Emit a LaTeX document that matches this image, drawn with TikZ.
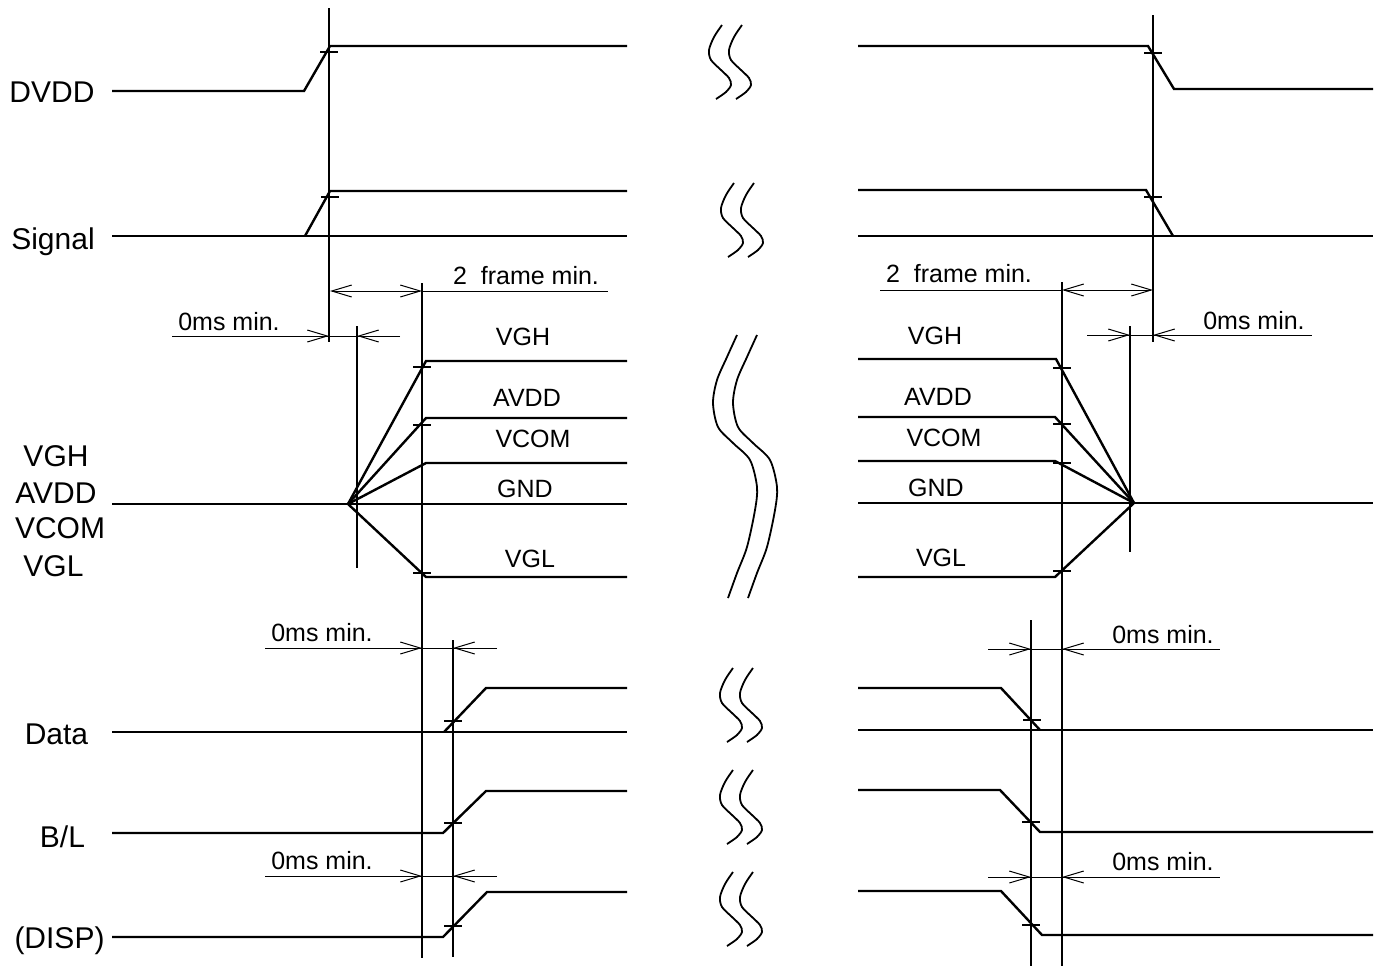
\documentclass[tikz,border=0pt]{standalone}
\usepackage{fontspec}
\setmainfont{Liberation Sans}
\usetikzlibrary{arrows.meta}
\tikzset{
  sig/.style={line width=1.2pt, line join=miter},
  guide/.style={line width=0.6pt},
  dim/.style={line width=0.5pt},
  tk/.style={line width=0.7pt},
  brk/.style={line width=0.9pt},
  big/.style={font=\fontsize{15}{15}\selectfont, inner sep=0pt, anchor=base},
  lbl/.style={font=\fontsize{12.5}{12.5}\selectfont, inner sep=0pt, anchor=base},
  ar/.style={-{Straight Barb[length=10pt,width=6pt]}},
  arr/.style={{Straight Barb[length=10pt,width=6pt]}-{Straight Barb[length=10pt,width=6pt]}},
}
\newcommand\tickmark[2]{\draw[tk] (#1-9,#2) -- (#1+9,#2);}
\newcommand\smallbrk[2]{%
  \foreach \dx in {0,20}{%
    \draw[brk,shift={(#1+\dx,#2)}] plot[smooth] coordinates {(13,0) (5,12) (0,25) (2,35) (12,45) (20,53) (22,60) (17,67) (7,74)};
  }}
\begin{document}
\begin{tikzpicture}[x=0.5pt,y=-0.5pt]
\useasboundingbox (0,0) rectangle (1381,966);

% ---------- left labels ----------
\node[big] (lDVDD) at (52,102.5) {DVDD};
\node[big] (lSig) at (53,249) {Signal};
\node[big] (lVGH) at (56,466) {VGH};
\node[big] (lAVDD) at (56,503) {AVDD};
\node[big] (lVCOM) at (60,538) {VCOM};
\node[big] (lVGL) at (53.5,576) {VGL};
\node[big] (lData) at (56.5,744) {Data};
\node[big] (lBL) at (62.5,847) {B/L};
\node[big] (lDISP) at (59.5,948) {(DISP)};

% ---------- guide lines ----------
\draw[guide] (329,8) -- (329,342);
\draw[guide] (357,326) -- (357,568);
\draw[guide] (422,283) -- (422,958);
\draw[guide] (453,640) -- (453,957);
\draw[guide] (1153,15) -- (1153,342);
\draw[guide] (1130,326) -- (1130,552);
\draw[guide] (1062,282) -- (1062,966);
\draw[guide] (1031,620) -- (1031,966);

% ---------- DVDD ----------
\draw[sig] (112,91) -- (304,91) -- (330,46) -- (627,46);
\draw[sig] (858,46) -- (1148,46) -- (1174,89) -- (1373,89);
\tickmark{329}{52}
\tickmark{1153}{53}

% ---------- Signal ----------
\draw[sig] (112,236) -- (627,236);
\draw[sig] (305,236) -- (330,191) -- (627,191);
\draw[sig] (858,236) -- (1373,236);
\draw[sig] (858,190) -- (1146,190) -- (1173,236);
\tickmark{330}{197}
\tickmark{1153}{197}

% ---------- dimensions top ----------
\draw[dim,arr] (330,291) -- (422,291);
\draw[dim] (422,291) -- (608,291);
\node[lbl] at (526,284) {2~~frame min.};
\draw[dim] (172,336) -- (400,336);
\draw[dim,ar] (290,336) -- (329,336);
\draw[dim,ar] (400,336) -- (357,336);
\node[lbl] at (229,330) {0ms min.};

\draw[dim,arr] (1062,290) -- (1153,290);
\draw[dim] (880,290) -- (1062,290);
\node[lbl] at (959,282) {2~~frame min.};
\draw[dim] (1087,335) -- (1312,335);
\draw[dim,ar] (1087,335) -- (1130,335);
\draw[dim,ar] (1195,335) -- (1153,335);
\node[lbl] at (1254,329) {0ms min.};

% ---------- fan left ----------
\coordinate (oL) at (348,504);
\draw[sig] (oL) -- (426,361) -- (627,361);
\draw[sig] (oL) -- (426,418) -- (627,418);
\draw[sig] (oL) -- (426,463) -- (627,463);
\draw[sig] (112,504) -- (627,504);
\draw[sig] (oL) -- (426,577) -- (627,577);
\tickmark{422}{367}
\tickmark{422}{425}
\tickmark{422}{573}
\node[lbl] at (523,345) {VGH};
\node[lbl] at (527,406) {AVDD};
\node[lbl] at (533,447) {VCOM};
\node[lbl] at (525,497) {GND};
\node[lbl] at (530,567) {VGL};

% ---------- fan right ----------
\coordinate (oR) at (1134,503);
\draw[sig] (858,359) -- (1056,359) -- (oR);
\draw[sig] (858,417) -- (1055,417) -- (oR);
\draw[sig] (858,461) -- (1055,461) -- (oR);
\draw[sig] (858,503) -- (1373,503);
\draw[sig] (858,577) -- (1055,577) -- (oR);
\tickmark{1062}{368}
\tickmark{1062}{424}
\tickmark{1062}{463}
\tickmark{1062}{571}
\node[lbl] at (935,344) {VGH};
\node[lbl] at (938,405) {AVDD};
\node[lbl] at (944,446) {VCOM};
\node[lbl] at (936,496) {GND};
\node[lbl] at (941,566) {VGL};

% ---------- Data ----------
\draw[dim] (265,648) -- (497,648);
\draw[dim,ar] (380,648) -- (422,648);
\draw[dim,ar] (497,648) -- (453,648);
\node[lbl] at (322,641) {0ms min.};
\draw[sig] (112,732) -- (627,732);
\draw[sig] (444,732) -- (486,688) -- (627,688);
\tickmark{453}{721}

\draw[dim] (988,649) -- (1220,649);
\draw[dim,ar] (988,649) -- (1031,649);
\draw[dim,ar] (1105,649) -- (1062,649);
\node[lbl] at (1163,643) {0ms min.};
\draw[sig] (858,730) -- (1373,730);
\draw[sig] (858,688) -- (1001,688) -- (1040,730);
\tickmark{1032}{720}

% ---------- B/L ----------
\draw[sig] (112,833) -- (443,833) -- (486,791) -- (627,791);
\tickmark{453}{823}
\draw[sig] (858,790) -- (1000,790) -- (1040,832) -- (1373,832);
\tickmark{1031}{822}

% ---------- DISP ----------
\draw[dim] (265,876) -- (497,876);
\draw[dim,ar] (380,876) -- (422,876);
\draw[dim,ar] (497,876) -- (453,876);
\node[lbl] at (322,869) {0ms min.};
\draw[sig] (112,937) -- (443,937) -- (487,892) -- (627,892);
\tickmark{453}{926}

\draw[dim] (988,877) -- (1220,877);
\draw[dim,ar] (988,877) -- (1031,877);
\draw[dim,ar] (1105,877) -- (1062,877);
\node[lbl] at (1163,870) {0ms min.};
\draw[sig] (858,891) -- (1001,891) -- (1042,935) -- (1373,935);
\tickmark{1031}{925}

% ---------- breaks ----------
\smallbrk{709}{25}
\smallbrk{721}{183}
\smallbrk{720}{668}
\smallbrk{720}{770}
\smallbrk{720}{872}
\foreach \dx in {0,20}{%
  \draw[brk,shift={(\dx,0)}] plot[smooth] coordinates {(737,335) (727,357) (717,380) (713,403) (718,427) (733,443) (750,460) (757,487) (755,510) (747,547) (737,573) (728,598)};
}
\end{tikzpicture}
\end{document}
